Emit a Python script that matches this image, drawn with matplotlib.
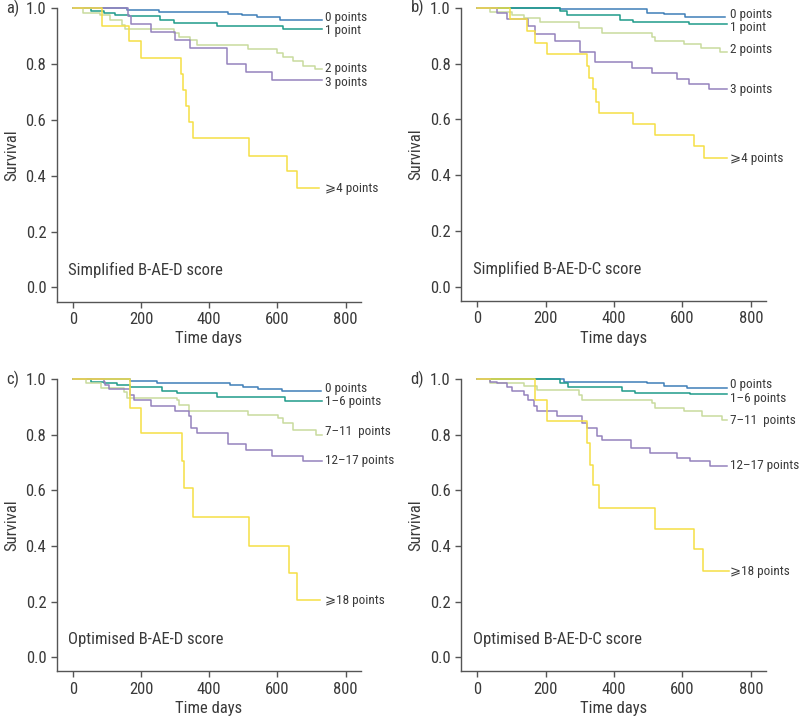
import matplotlib
matplotlib.use("Agg")
import matplotlib.pyplot as plt
from matplotlib.ticker import FormatStrFormatter

plt.rcParams["font.family"] = ["Roboto Condensed", "Roboto", "DejaVu Sans"]

TEXT = "#3a3a3a"
AXIS = "#555555"
COLORS = ["#3f7fb8", "#1f9b8a", "#c9db9e", "#9582bd", "#f5df45"]

# Kaplan-Meier steps: (day, survival) after each drop
# a) Simplified B-AE-D score
a_labels = ["0 points", "1 point", "2 points", "3 points", "\u2a7e4 points"]
a_times = [
    [0, 160, 252, 456, 496, 540, 607, 730],
    [0, 53, 91, 125, 164, 257, 296, 422, 617, 730],
    [0, 30, 80, 110, 145, 152, 296, 310, 345, 364, 515, 598, 617, 646, 675, 709, 730],
    [0, 163, 171, 228, 299, 345, 452, 508, 583, 730],
    [0, 87, 166, 200, 316, 323, 333, 342, 351, 516, 629, 658, 722],
]
a_surv = [
    [1.0, 0.993, 0.987, 0.981, 0.976, 0.970, 0.958, 0.958],
    [1.0, 0.990, 0.985, 0.977, 0.972, 0.957, 0.949, 0.935, 0.926, 0.926],
    [1.0, 0.985, 0.975, 0.957, 0.941, 0.926, 0.912, 0.896, 0.885, 0.870, 0.855, 0.840, 0.826, 0.810, 0.795, 0.781, 0.781],
    [1.0, 0.973, 0.945, 0.914, 0.885, 0.858, 0.802, 0.772, 0.745, 0.745],
    [1.0, 0.935, 0.882, 0.822, 0.763, 0.709, 0.650, 0.591, 0.535, 0.472, 0.417, 0.358, 0.358],
]
a_label_y = [0.968, 0.919, 0.786, 0.733, 0.353]

# b) Simplified B-AE-D-C score
b_labels = a_labels
b_times = [
    [0, 243, 497, 545, 609, 726],
    [0, 243, 262, 418, 457, 618, 730],
    [0, 38, 101, 136, 184, 297, 365, 511, 521, 604, 653, 711, 730],
    [0, 58, 87, 150, 170, 228, 301, 345, 453, 511, 584, 618, 677, 730],
    [0, 97, 145, 170, 204, 321, 328, 338, 347, 357, 455, 521, 633, 662, 730],
]
b_surv = [
    [1.0, 0.994, 0.982, 0.976, 0.966, 0.966],
    [1.0, 0.988, 0.973, 0.956, 0.947, 0.940, 0.940],
    [1.0, 0.985, 0.973, 0.964, 0.947, 0.929, 0.911, 0.896, 0.882, 0.869, 0.857, 0.843, 0.843],
    [1.0, 0.982, 0.958, 0.933, 0.905, 0.881, 0.843, 0.807, 0.783, 0.765, 0.743, 0.725, 0.708, 0.708],
    [1.0, 0.958, 0.917, 0.875, 0.835, 0.791, 0.749, 0.708, 0.662, 0.624, 0.585, 0.543, 0.504, 0.460, 0.460],
]
b_label_y = [0.974, 0.929, 0.851, 0.708, 0.460]

# c) Optimised B-AE-D score
c_labels = ["0 points", "1\u20136 points", "7\u201311  points", "12\u201317 points", "\u2a7e18 points"]
c_times = [
    [0, 169, 247, 461, 500, 544, 612, 729],
    [0, 53, 91, 130, 169, 262, 306, 422, 622, 730],
    [0, 38, 82, 150, 160, 306, 310, 340, 515, 602, 617, 646, 714, 730],
    [0, 91, 95, 105, 169, 179, 228, 301, 340, 348, 364, 455, 508, 583, 675, 730],
    [0, 169, 201, 320, 327, 352, 518, 634, 658, 724],
]
c_surv = [
    [1.0, 0.995, 0.986, 0.979, 0.973, 0.965, 0.959, 0.959],
    [1.0, 0.991, 0.986, 0.979, 0.973, 0.958, 0.952, 0.937, 0.923, 0.923],
    [1.0, 0.986, 0.968, 0.954, 0.934, 0.925, 0.908, 0.884, 0.870, 0.860, 0.842, 0.818, 0.800, 0.800],
    [1.0, 0.991, 0.979, 0.965, 0.944, 0.925, 0.904, 0.884, 0.866, 0.825, 0.806, 0.766, 0.746, 0.725, 0.704, 0.704],
    [1.0, 0.898, 0.808, 0.704, 0.608, 0.506, 0.400, 0.304, 0.206, 0.206],
]
c_label_y = [0.968, 0.919, 0.813, 0.706, 0.204]

# d) Optimised B-AE-D-C score
d_labels = c_labels
d_times = [
    [0, 253, 497, 545, 614, 731],
    [0, 243, 267, 423, 462, 623, 730],
    [0, 38, 136, 175, 297, 306, 511, 521, 604, 658, 716, 730],
    [0, 38, 58, 87, 101, 136, 150, 165, 175, 233, 306, 321, 350, 365, 451, 504, 584, 621, 680, 730],
    [0, 170, 204, 321, 331, 339, 355, 519, 633, 660, 736],
]
d_surv = [
    [1.0, 0.991, 0.986, 0.977, 0.970, 0.970],
    [1.0, 0.988, 0.973, 0.959, 0.952, 0.946, 0.946],
    [1.0, 0.988, 0.977, 0.962, 0.944, 0.926, 0.916, 0.898, 0.884, 0.866, 0.853, 0.853],
    [1.0, 0.99, 0.985, 0.973, 0.956, 0.944, 0.925, 0.904, 0.886, 0.866, 0.844, 0.826, 0.794, 0.782, 0.752, 0.734, 0.718, 0.704, 0.686, 0.686],
    [1.0, 0.926, 0.850, 0.770, 0.692, 0.620, 0.538, 0.461, 0.388, 0.310, 0.310],
]
d_label_y = [0.982, 0.931, 0.852, 0.689, 0.309]

panels = [
    ("a)", "Simplified B-AE-D score", a_labels, a_times, a_surv, a_label_y),
    ("b)", "Simplified B-AE-D-C score", b_labels, b_times, b_surv, b_label_y),
    ("c)", "Optimised B-AE-D score", c_labels, c_times, c_surv, c_label_y),
    ("d)", "Optimised B-AE-D-C score", d_labels, d_times, d_surv, d_label_y),
]
positions = [
    [0.0709, 0.5839, 0.380, 0.4046],
    [0.5763, 0.5848, 0.381, 0.4046],
    [0.0709, 0.0741, 0.380, 0.4028],
    [0.5763, 0.0741, 0.381, 0.4028],
]

fig = plt.figure(figsize=(8, 7.25), dpi=100)

for (letter, title, labels, times, surv, label_y), pos in zip(panels, positions):
    ax = fig.add_axes(pos)
    for t, s, color in zip(times, surv, COLORS):
        ax.step(t, s, where="post", color=color, lw=1.1, clip_on=False)
    for lab, ly in zip(labels, label_y):
        ax.text(738, ly, lab, fontsize=9.5, color=TEXT, va="center", ha="left",
                clip_on=False)

    ax.set_xlim(-47, 844)
    ax.set_ylim(-0.051, 1.0)
    ax.set_xticks([0, 200, 400, 600, 800])
    ax.set_yticks([0.0, 0.2, 0.4, 0.6, 0.8, 1.0])
    ax.yaxis.set_major_formatter(FormatStrFormatter("%.1f"))
    ax.tick_params(direction="out", length=4, width=1, color=AXIS,
                   labelcolor=TEXT, labelsize=12)
    for side in ["top", "right"]:
        ax.spines[side].set_visible(False)
    for side in ["left", "bottom"]:
        ax.spines[side].set_color(AXIS)
        ax.spines[side].set_linewidth(1)

    ax.set_xlabel("Time days", fontsize=12, color=TEXT, labelpad=3)
    ax.set_ylabel("Survival", fontsize=12, color=TEXT)
    ax.yaxis.set_label_coords(-0.124, 0.5)
    ax.text(0.038, 0.108, title, transform=ax.transAxes, fontsize=12,
            color=TEXT, va="center", ha="left")
    ax.text(-0.165, 1.0, letter, transform=ax.transAxes, fontsize=12,
            color=TEXT, va="center", ha="left")

fig.savefig("out.png", dpi=100)
